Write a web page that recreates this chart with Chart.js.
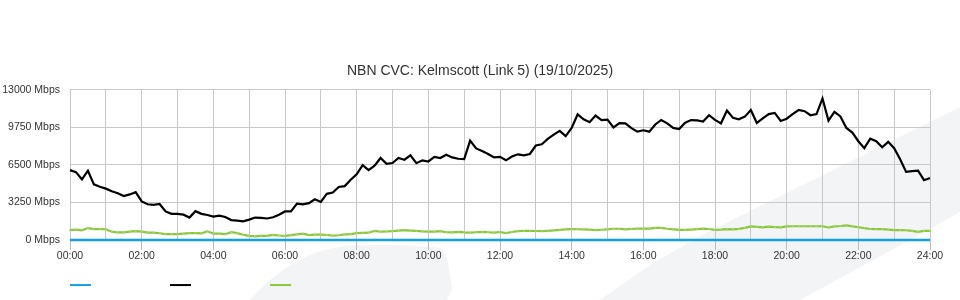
<!DOCTYPE html>
<html>
<head>
<meta charset="utf-8">
<script src="https://cdn.jsdelivr.net/npm/chart.js@4.4.0/dist/chart.umd.min.js"></script>
<style>
html,body{margin:0;padding:0;background:#ffffff;}
canvas{display:block;}
</style>
</head>
<body>
<canvas id="c" width="960" height="300"></canvas>
<script>
// ---- Chart content ----
const chartTitle = 'NBN CVC: Kelmscott (Link 5) (19/10/2025)';
const seriesNames = ['Capacity', 'Download', 'Upload'];
const hourLabels = ['00:00','02:00','04:00','06:00','08:00','10:00','12:00','14:00','16:00','18:00','20:00','22:00','24:00'];
const yTickValues = [0, 3250, 6500, 9750, 13000];
const yUnit = ' Mbps';
const sampleMinutes = 10; // one value every 10 minutes, 00:00 .. 24:00

const capacityValues = [
  0,0,0,0,0,0,0,0,0,0,0,0,0,0,0,0,0,0,0,0,0,0,0,0,
  0,0,0,0,0,0,0,0,0,0,0,0,0,0,0,0,0,0,0,0,0,0,0,0,
  0,0,0,0,0,0,0,0,0,0,0,0,0,0,0,0,0,0,0,0,0,0,0,0,
  0,0,0,0,0,0,0,0,0,0,0,0,0,0,0,0,0,0,0,0,0,0,0,0,
  0,0,0,0,0,0,0,0,0,0,0,0,0,0,0,0,0,0,0,0,0,0,0,0,
  0,0,0,0,0,0,0,0,0,0,0,0,0,0,0,0,0,0,0,0,0,0,0,0,
  0
];

const downloadValues = [
  6050,5880,5250,6000,4820,4620,4450,4220,4050,3815,3950,4150,
  3350,3100,3050,3120,2480,2270,2260,2200,1950,2500,2270,2170,
  2040,2120,2000,1730,1690,1620,1770,1950,1930,1870,1980,2200,
  2480,2490,3150,3090,3200,3530,3300,4000,4110,4590,4670,5220,
  5690,6480,6050,6440,7100,6600,6670,7100,6950,7330,6650,6900,
  6800,7200,7100,7375,7150,7035,7000,8600,7930,7700,7450,7150,
  7200,6900,7230,7420,7330,7450,8180,8290,8750,9120,9450,9000,
  9700,10880,10450,10200,10770,10380,10420,9750,10120,10100,9680,9385,
  9500,9380,10000,10390,10100,9700,9600,10150,10380,10350,10260,10800,
  10400,10100,11200,10580,10450,10680,11250,10130,10520,10900,11000,10300,
  10500,10900,11250,11150,10800,10900,12250,10340,11100,10700,9700,9300,
  8550,7950,8770,8560,8035,8500,7950,7000,5900,5960,6000,5180,
  5365
];

const uploadValues = [
  860,900,850,1040,950,950,940,730,660,660,740,775,
  740,650,640,590,525,520,520,555,600,610,580,760,
  560,560,510,680,600,460,360,320,370,370,450,400,
  370,430,500,560,430,470,480,440,380,420,495,515,
  605,630,640,790,725,745,780,820,855,825,790,750,
  725,740,770,680,670,715,670,640,680,710,680,650,
  700,600,700,775,790,800,785,780,805,840,880,920,
  950,940,925,900,865,895,935,980,980,930,960,1000,
  1000,1000,1060,1060,980,930,890,880,910,950,990,960,
  880,900,945,930,965,1060,1190,1140,1100,1170,1130,1100,
  1180,1200,1200,1200,1200,1200,1200,1090,1180,1220,1280,1190,
  1110,1030,960,950,950,900,860,860,850,790,720,790,
  800
];

const seriesColors = ['#12a0e0', '#000000', '#8cc63f'];
const pointColors = ['#12a0e0', '#000000', '#a6d86a'];

// ---- helpers ----
function toPoints(values) {
  return values.map((v, i) => ({ x: i * sampleMinutes / 60, y: v }));
}

// decorative light watermark behind the chart
const watermark = {
  id: 'watermark',
  beforeDraw(chart) {
    const ctx = chart.ctx;
    ctx.save();
    ctx.fillStyle = '#f3f4f6';
    ctx.beginPath();
    ctx.moveTo(250, 300);
    ctx.quadraticCurveTo(292, 252, 345, 246);
    ctx.quadraticCurveTo(400, 243, 440, 248);
    ctx.quadraticCurveTo(446, 252, 448, 262);
    ctx.lineTo(452, 288);
    ctx.lineTo(447, 300);
    ctx.closePath();
    ctx.fill();
    ctx.beginPath();
    ctx.moveTo(600, 300);
    ctx.lineTo(650, 265);
    ctx.lineTo(700, 236);
    ctx.lineTo(960, 107);
    ctx.lineTo(960, 212);
    ctx.lineTo(910, 240);
    ctx.lineTo(800, 300);
    ctx.closePath();
    ctx.fill();
    ctx.restore();
  }
};

Chart.defaults.font.family = "'Liberation Sans', Arial, Helvetica, sans-serif";
Chart.defaults.color = '#333333';

const datasets = [capacityValues, downloadValues, uploadValues].map((vals, i) => ({
  label: seriesNames[i],
  data: toPoints(vals),
  borderColor: seriesColors[i],
  backgroundColor: seriesColors[i],
  borderWidth: i === 0 ? 2.5 : 2.2,
  pointRadius: i === 2 ? 1 : 0,
  pointBorderWidth: 0,
  pointBackgroundColor: pointColors[i],
  tension: 0,
  fill: false,
  clip: false
}));

const legendSpacer = ' '.repeat(27);

new Chart(document.getElementById('c'), {
  type: 'line',
  data: { datasets },
  plugins: [watermark],
  options: {
    responsive: false,
    animation: false,
    devicePixelRatio: 1,
    layout: { padding: { left: 0, right: 0, top: 63, bottom: 0 } },
    plugins: {
      title: {
        display: true,
        text: chartTitle,
        color: '#333333',
        font: { size: 14, weight: 'normal' },
        padding: { top: 0, bottom: 10 }
      },
      legend: {
        display: true,
        position: 'bottom',
        align: 'start',
        fullSize: false,
        labels: {
          boxWidth: 21,
          boxHeight: 2,
          padding: 0,
          font: { size: 9.9 },
          generateLabels: (chart) => chart.data.datasets.map((ds, i) => ({
            text: legendSpacer,
            fillStyle: ds.borderColor,
            strokeStyle: ds.borderColor,
            lineWidth: 0,
            hidden: false,
            datasetIndex: i
          }))
        }
      },
      tooltip: { enabled: false }
    },
    scales: {
      x: {
        type: 'linear',
        min: 0,
        max: 24,
        afterFit: (s) => { s.height = 40; },
        ticks: {
          stepSize: 1,
          autoSkip: false,
          maxRotation: 0,
          padding: 0,
          color: '#333333',
          font: { size: 10.5 },
          callback: (v) => (v % 2 === 0 ? hourLabels[v / 2] : '')
        },
        grid: {
          color: '#c8c8c8',
          lineWidth: 1,
          drawTicks: true,
          tickLength: 10,
          tickColor: (ctx) => (ctx.tick && ctx.tick.value % 2 === 0 ? '#bdbdbd' : 'rgba(0,0,0,0)')
        },
        border: { display: true, color: '#c8c8c8' }
      },
      y: {
        min: 0,
        max: 13000,
        afterFit: (s) => { s.width = 70; },
        afterBuildTicks: (s) => { s.ticks = yTickValues.map(v => ({ value: v })); },
        ticks: {
          padding: 10,
          color: '#333333',
          font: { size: 10.5 },
          callback: (v) => v + yUnit
        },
        grid: { color: '#c8c8c8', lineWidth: 1, drawTicks: false },
        border: { display: true, color: '#c8c8c8' }
      },
      yRightMargin: {
        position: 'right',
        min: 0,
        max: 1,
        afterFit: (s) => { s.width = 30; },
        ticks: { display: false },
        grid: { display: false, drawOnChartArea: false, drawTicks: false },
        border: { display: false }
      }
    }
  }
});
</script>
</body>
</html>
